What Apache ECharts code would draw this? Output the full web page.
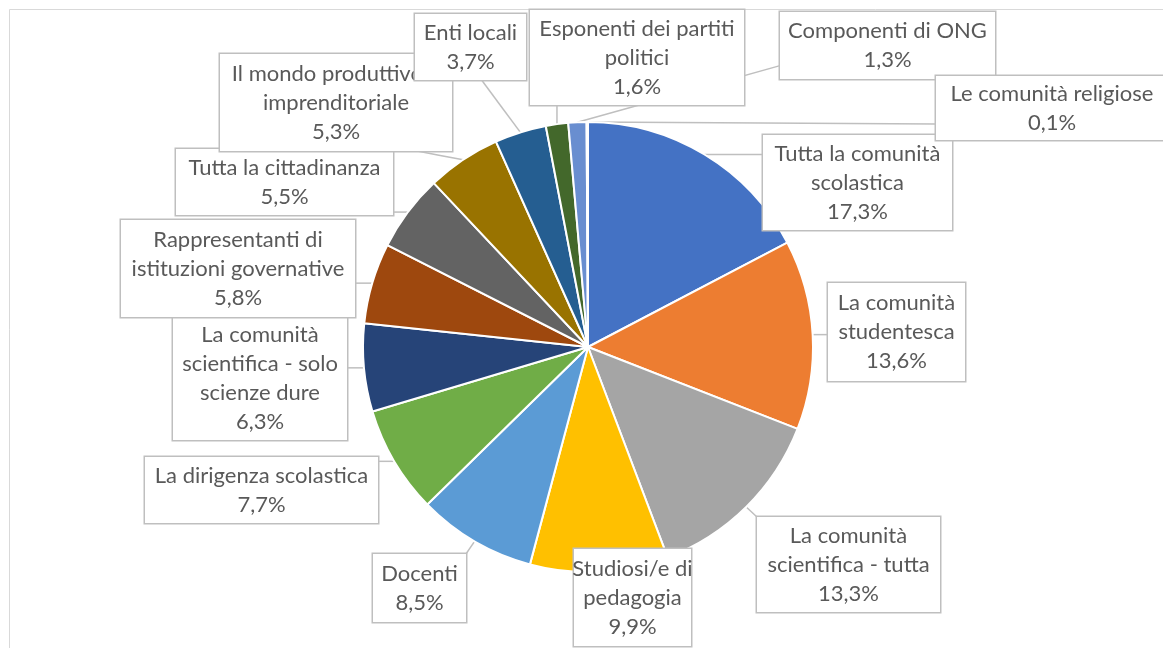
<!DOCTYPE html>
<html><head><meta charset="utf-8">
<script src="https://cdn.jsdelivr.net/npm/echarts@6/dist/echarts.min.js"></script>
<style>html,body{margin:0;padding:0;background:#fff}#c{width:1163px;height:648px}</style>
</head><body><div id="c"></div>
<script>
const categories = [
  'Tutta la comunità\nscolastica',
  'La comunità\nstudentesca',
  'La comunità\nscientifica - tutta',
  'Studiosi/e di\npedagogia',
  'Docenti',
  'La dirigenza scolastica',
  'La comunità\nscientifica - solo\nscienze dure',
  'Rappresentanti di\nistituzioni governative',
  'Tutta la cittadinanza',
  'Il mondo produttivo e\nimprenditoriale',
  'Enti locali',
  'Esponenti dei partiti\npolitici',
  'Componenti di ONG',
  'Le comunità religiose'
];
const values = [17.3, 13.6, 13.3, 9.9, 8.5, 7.7, 6.3, 5.8, 5.5, 5.3, 3.7, 1.6, 1.3, 0.1];
const colors = ['#4472C4','#ED7D31','#A5A5A5','#FFC000','#5B9BD5','#70AD47','#264478',
                '#9E480E','#636363','#997300','#255E91','#43682B','#698ED0','#F1975A'];
// label callout boxes: [left, top, width, height] in px
const labelBoxes = [
  [763,135,189,95],
  [828,283,137,98],
  [757,517,183,95],
  [574,549,117,97],
  [373,554,93,68],
  [145,457,233,66],
  [173,317,174,123],
  [121,220,234,97],
  [176,149,217,66],
  [220,54,232,97],
  [415,14,111,66],
  [530,10,214,95],
  [780,12,215,67],
  [936,76,232,64]
];
// where each leader line meets its box, as a fraction of the box (x, y)
const leaderEnds = [
  null, null, null, null, null, null, null, null, null,
  [0.85, 1], [0.6, 1], null, [0, 0.8], [0, 0.75]
];
const LH = 29;
const fmt = v => v.toFixed(1).replace('.', ',') + '%';

const data = categories.map((name, i) => {
  const b = labelBoxes[i];
  const n = name.split('\n').length + 1;
  const pv = Math.max(0, (b[3] - n * LH) / 2);
  return {
    name, value: values[i],
    itemStyle: { color: colors[i] },
    label: { width: b[2], padding: [pv, 0, pv, 0] }
  };
});

const chart = echarts.init(document.getElementById('c'), null, { renderer: 'canvas' });
chart.setOption({
  animation: false,
  backgroundColor: '#fff',
  graphic: [{
    type: 'rect', silent: true, z: -10,
    shape: { x: 9.5, y: 9.5, width: 1300, height: 800 },
    style: { fill: 'none', stroke: '#d9d9d9', lineWidth: 1 }
  }],
  series: [{
    type: 'pie',
    center: [588, 347],
    radius: 225,
    startAngle: 90,
    clockwise: true,
    avoidLabelOverlap: false,
    emphasis: { disabled: true },
    itemStyle: { borderColor: '#fff', borderWidth: 2 },
    label: {
      show: true,
      position: 'outside',
      fontFamily: 'Lato',
      fontSize: 22,
      lineHeight: LH,
      color: '#595959',
      align: 'center',
      overflow: 'none',
      backgroundColor: '#fff',
      borderColor: '#bfbfbf',
      borderWidth: 1.5,
      formatter: p => p.name + '\n' + fmt(p.value)
    },
    labelLine: { show: true, smooth: false, lineStyle: { color: '#bfbfbf', width: 1.5 } },
    labelLayout: function (p) {
      const i = p.dataIndex;
      const b = labelBoxes[i];
      const res = { x: b[0] + b[2] / 2, y: b[1], align: 'center', verticalAlign: 'top',
                    hideOverlap: false, moveOverlap: null };
      const s = p.labelLinePoints && p.labelLinePoints[0];
      if (s) {
        let ex, ey;
        if (leaderEnds[i]) {
          ex = b[0] + leaderEnds[i][0] * b[2];
          ey = b[1] + leaderEnds[i][1] * b[3];
        } else {
          ex = Math.min(Math.max(s[0], b[0]), b[0] + b[2]);
          ey = Math.min(Math.max(s[1], b[1]), b[1] + b[3]);
        }
        res.labelLinePoints = [[s[0], s[1]], [(s[0] + ex) / 2, (s[1] + ey) / 2], [ex, ey]];
      }
      return res;
    },
    data
  }]
});
</script></body></html>
